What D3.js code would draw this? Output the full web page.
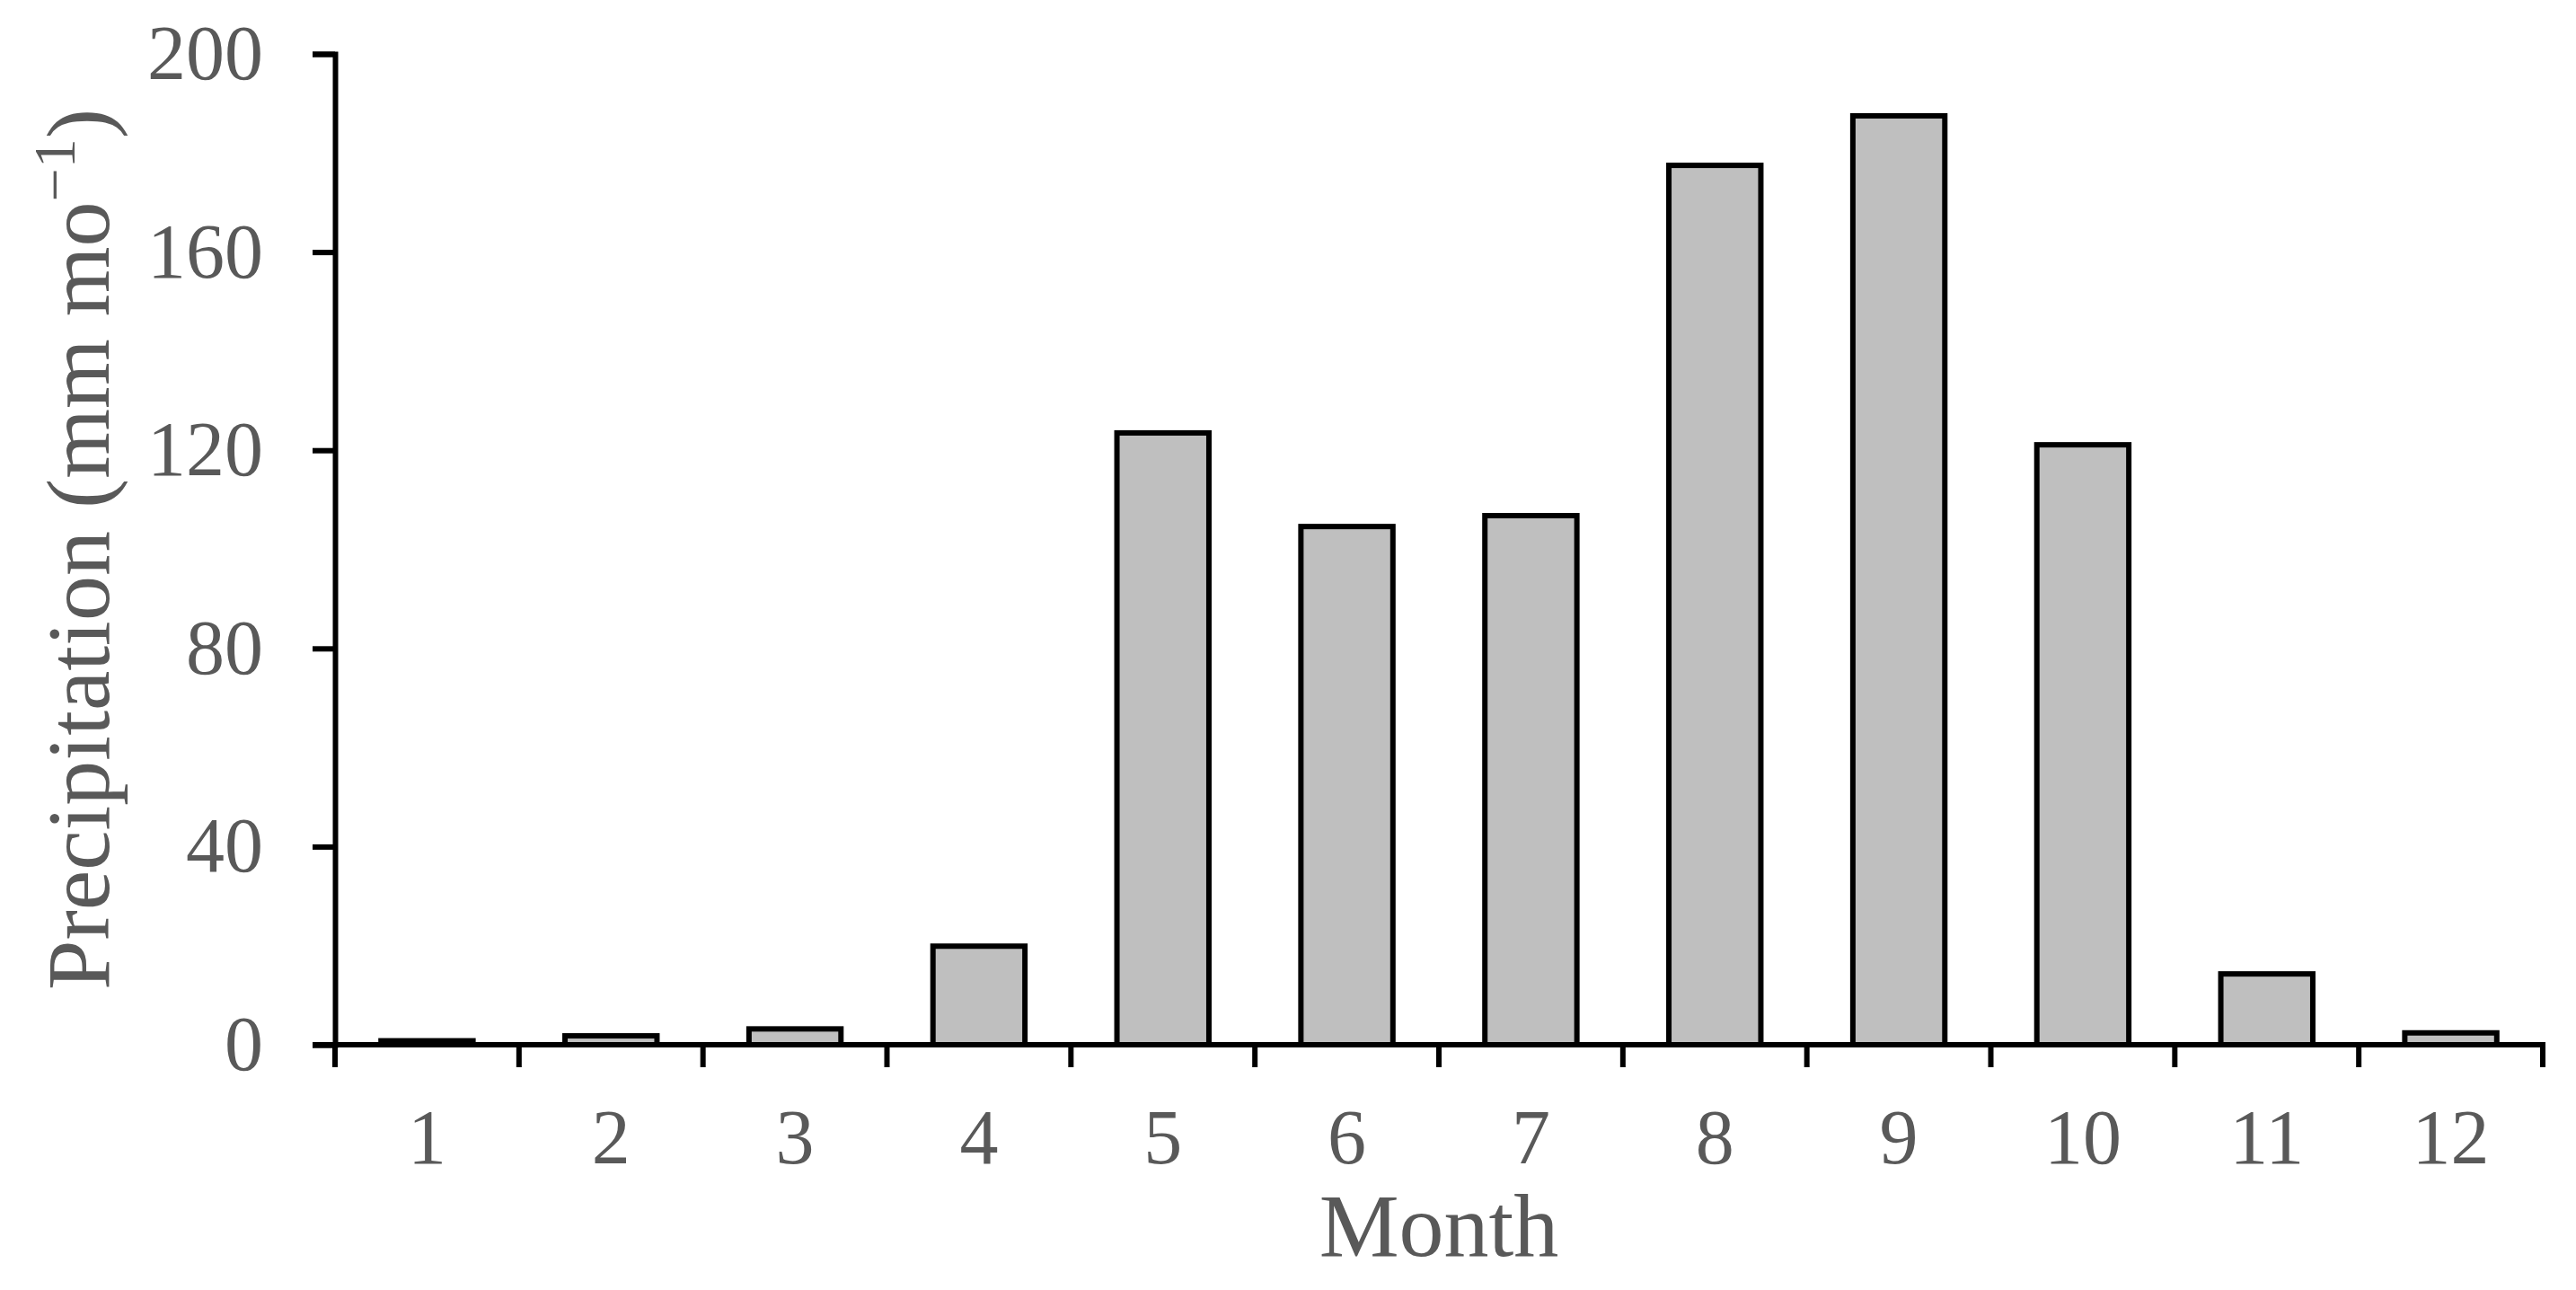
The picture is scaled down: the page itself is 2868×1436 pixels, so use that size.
<!DOCTYPE html>
<html>
<head>
<meta charset="utf-8">
<script src="https://cdn.jsdelivr.net/npm/d3@7"></script>
<style>
  body { margin: 0; background: #fff; }
  svg { display: block; }
</style>
</head>
<body>
<svg id="chart" width="2868" height="1436"></svg>
<script>
// dados
const months = ["1", "2", "3", "4", "5", "6", "7", "8", "9", "10", "11", "12"];
const precipitation = [0.8, 1.8, 3.2, 19.9, 123.5, 104.6, 106.8, 177.5, 187.5, 121.1, 14.3, 2.4];
const yTicks = [0, 40, 80, 120, 160, 200];

const svg = d3.select("#chart");
const width = 2868;
const height = 1436;
const margin = { top: 60, right: 37, bottom: 273, left: 373 };

const textColor = "#595959";
const fontFamily = "'Liberation Serif', 'Times New Roman', serif";
const lineW = 6;

const x = d3.scaleBand()
  .domain(months)
  .range([margin.left, width - margin.right])
  .paddingInner(0.5)
  .paddingOuter(0.25);

// faixas completas para os ticks entre meses
const xEdge = d3.scaleLinear()
  .domain([0, months.length])
  .range([margin.left, width - margin.right]);

const y = d3.scaleLinear()
  .domain([0, 200])
  .range([height - margin.bottom, margin.top]);

// barras
svg.append("g")
  .selectAll("rect")
  .data(precipitation)
  .join("rect")
  .attr("x", (d, i) => x(months[i]))
  .attr("y", d => y(d))
  .attr("width", x.bandwidth())
  .attr("height", d => y(0) - y(d))
  .attr("fill", "#bfbfbf")
  .attr("stroke", "#000")
  .attr("stroke-width", lineW);

// eixo y
const yAxis = d3.axisLeft(y).tickValues(yTicks).tickSize(25).tickPadding(55);
const gy = svg.append("g")
  .attr("transform", `translate(${margin.left},0)`)
  .call(yAxis);
gy.select(".domain").attr("stroke", "#000").attr("stroke-width", lineW);
gy.selectAll(".tick line").attr("stroke", "#000").attr("stroke-width", lineW);
gy.selectAll(".tick text")
  .attr("fill", textColor)
  .style("font-family", fontFamily)
  .style("font-size", "86px");

// eixo x: linha + ticks nas divisões
const gx = svg.append("g");
gx.append("line")
  .attr("x1", margin.left - 25)
  .attr("x2", width - margin.right + lineW / 2)
  .attr("y1", y(0))
  .attr("y2", y(0))
  .attr("stroke", "#000")
  .attr("stroke-width", lineW);

gx.selectAll(".xtick")
  .data(d3.range(months.length + 1))
  .join("line")
  .attr("class", "xtick")
  .attr("x1", d => xEdge(d))
  .attr("x2", d => xEdge(d))
  .attr("y1", y(0))
  .attr("y2", y(0) + 25)
  .attr("stroke", "#000")
  .attr("stroke-width", lineW);

gx.selectAll(".xlabel")
  .data(months)
  .join("text")
  .attr("class", "xlabel")
  .attr("x", d => x(d) + x.bandwidth() / 2)
  .attr("y", y(0) + 132)
  .attr("text-anchor", "middle")
  .attr("fill", textColor)
  .style("font-family", fontFamily)
  .style("font-size", "86px")
  .text(d => d);

// títulos
svg.append("text")
  .attr("x", (margin.left + width - margin.right) / 2)
  .attr("y", 1398)
  .attr("text-anchor", "middle")
  .attr("fill", textColor)
  .style("font-family", fontFamily)
  .style("font-size", "100px")
  .text("Month");

const yTitle = svg.append("text")
  .attr("transform", `translate(121, ${(y(0) + y(200)) / 2}) rotate(-90)`)
  .attr("text-anchor", "middle")
  .attr("fill", textColor)
  .style("font-family", fontFamily)
  .style("font-size", "100px");
yTitle.append("tspan").text("Precipitation (mm mo");
yTitle.append("tspan").attr("dy", -38).style("font-size", "66px").text("\u22121");
yTitle.append("tspan").attr("dy", 38).text(")");
</script>
</body>
</html>
